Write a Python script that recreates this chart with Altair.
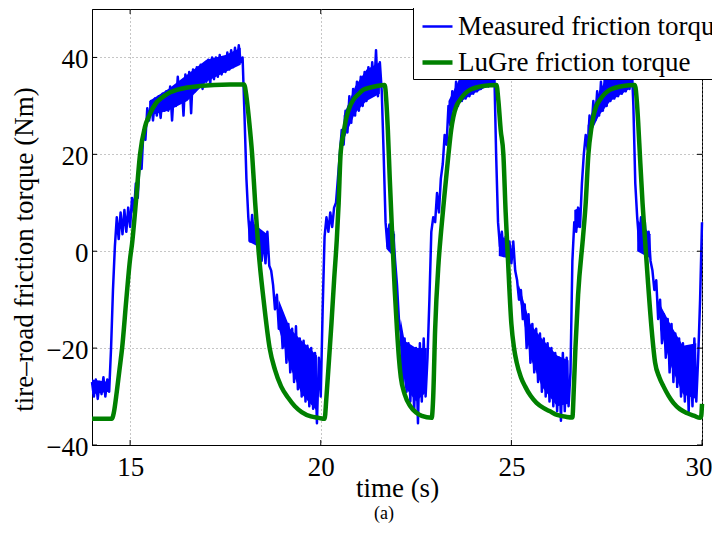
import altair as alt
import pandas as pd

# ---------------- data ----------------
x_ticks = [15, 20, 25, 30]
y_ticks = [-40, -20, 0, 20, 40]
series_names = ["Measured friction torque", "LuGre friction torque"]
series_colors = ["#0000ff", "#008000"]
series_widths = [2.5, 4.5]

# measured torque, sampled every 0.05 s from 14.00 s (one list per second)
b14 = [-27, -30, -26.5, -30.5, -27, -29.5, -26, -30, -26.5, -29, -20, -8, 1, 7, 2.5, 8, 3.5, 8.5, 4, 9]
b15 = [5, 11, 8, 14, 11, 19, 17, 25, 23, 29.5, 27, 31, 27, 31.5, 28, 32, 27.5, 32.5, 29, 33]
b16 = [29, 34, 27, 33.5, 30, 36, 31, 35, 28, 36.5, 32, 37, 28.5, 37.5, 33, 38, 34, 38.5, 33.5, 38]
b17 = [35, 39.5, 34.5, 40, 35.5, 40, 36, 40.5, 36.5, 40, 37, 41, 37.5, 41.5, 38, 42, 38.5, 42.5, 39, 40]
b18 = [28, 15, 7, 2, 7.5, 2.5, 6, 1, 4, -2, 3, -2.5, 4, -3, -4, -7, -12, -9, -16, -13]
b19 = [-20, -15, -23, -15, -25, -16, -27, -15.5, -28.5, -18, -30, -18.5, -31, -19.5, -32, -20, -32.5, -21, -35.5, -22]
b20 = [-30, -12, 3, 7, 4, 8, 5, 9, 10, 15, 20, 25, 22, 29, 24.5, 32, 26.5, 33.5, 28, 35]
b21 = [29, 36, 30, 37, 31, 38, 32, 39, 33, 41.5, 32, 39, 33, 20, 6, 1, 5.5, 0, 4, -2]
b22 = [-7, -14, -17, -27, -18, -29, -19, -31, -20, -33, -20, -35.5, -19, -31, -18, -30, -22, -10, 4, 7]
b23 = [6, 12, 8, 15, 18, 24, 22, 30, 26, 33, 28, 35, 30, 36, 31, 37, 31.5, 38, 32, 39]
b24 = [32.5, 40, 33, 40.5, 33.5, 41, 34, 41.5, 34, 41, 34.5, 38, 20, 6, 1, 4, -1, 3, -2, 2]
b25 = [-2.5, 2, -4, -6, -10, -8, -14, -11, -20, -13, -23, -15, -25, -16, -27, -17, -29, -18, -30, -19]
b26 = [-31, -20, -32, -21, -33, -22, -35, -21, -33, -22, -32, -25, -2, 6, 4, 9, 5, 14, 20, 24]
b27 = [21, 28, 25, 31, 27, 33, 28, 35, 29, 36, 30, 37, 31, 38, 31.5, 39, 32, 40, 32.5, 40.5]
b28 = [33, 41, 33.5, 40, 30, 14, 7, 2, 7, 1, 6, -1, 4, -2, -4, -8, -6, -14, -10, -19]
b29 = [-13, -22, -14, -25, -15, -27, -17, -28, -18, -30, -19, -31, -20, -33, -21, -32, -18, -31, -22, -10, 6]

# dense core of the measured noise (segment id, time, lower edge, upper edge)
band_seg = [0, 0,
            1, 1, 1, 1, 1, 1,
            2, 2,
            3, 3, 3, 3,
            4, 4, 4, 4,
            5, 5,
            6, 6, 6, 6,
            7, 7, 7, 7,
            8, 8,
            9, 9, 9, 9, 9,
            10, 10,
            11, 11, 11, 11,
            12, 12,
            13, 13, 13, 13]
band_t = [14.0, 14.45,
          15.5, 16.0, 16.5, 17.0, 17.5, 17.9,
          18.1, 18.6,
          18.9, 19.2, 19.5, 19.9,
          20.6, 20.9, 21.2, 21.55,
          21.72, 21.95,
          22.1, 22.2, 22.5, 22.78,
          23.35, 23.6, 24.0, 24.5,
          24.67, 24.95,
          25.2, 25.5, 25.8, 26.2, 26.5,
          26.65, 26.8,
          27.0, 27.3, 27.6, 28.1,
          28.3, 28.65,
          28.9, 29.2, 29.5, 29.85]
band_lo = [-29.5, -29,
           28, 29, 31, 35, 37, 38.5,
           2, 0,
           -16, -24, -29.5, -33,
           23, 28.5, 31, 32.5,
           0.5, -1.5,
           -17, -28, -31, -29,
           28, 30.5, 32.5, 34.5,
           -1, -1.5,
           -9, -22, -28, -32, -31.5,
           4.5, 5,
           23, 28, 31, 33.5,
           0, -1.5,
           -16, -24, -29.5, -30.5]
band_hi = [-26.5, -27,
           31, 33.5, 36.5, 39.5, 40.5, 42,
           6.5, 3.5,
           -10, -16, -18.5, -21.5,
           28, 34, 37.5, 39,
           5, 3.5,
           -14, -18.5, -20, -20,
           31, 35, 39.5, 40.5,
           3.5, 2,
           -7, -15, -18, -21.5, -22.5,
           8.5, 9,
           26, 33, 37, 40,
           6.5, 3.5,
           -11, -15.5, -19.5, -19]

# LuGre model torque (time, value) points
green_t = [14.0, 14.52, 14.58, 14.65, 14.72, 14.79, 14.9, 15.0, 15.05, 15.15, 15.26, 15.39, 15.5, 15.7, 15.87, 16.05, 16.22, 16.5, 16.83, 17.2, 17.62, 17.99,
           18.05, 18.12, 18.2, 18.28, 18.37, 18.5, 18.66, 18.8, 18.96, 19.15, 19.32, 19.5, 19.74, 19.95, 20.1,
           20.15, 20.22, 20.28, 20.35, 20.42, 20.47, 20.52, 20.6, 20.68, 20.76, 20.85, 21.0, 21.11, 21.3, 21.47, 21.68,
           21.72, 21.76, 21.81, 21.87, 21.94, 22.0, 22.05, 22.1, 22.2, 22.35, 22.5, 22.65, 22.91,
           22.95, 23.0, 23.09, 23.16, 23.25, 23.35, 23.42, 23.48, 23.56, 23.65, 23.78, 23.91, 24.08, 24.26, 24.61,
           24.66, 24.72, 24.79, 24.85, 24.9, 25.0, 25.07, 25.14, 25.25, 25.36, 25.5, 25.66, 25.85, 26.0, 26.2, 26.45, 26.6,
           26.64, 26.68, 26.75, 26.88, 26.95, 27.02, 27.1, 27.15, 27.23, 27.32, 27.45, 27.58, 27.75, 27.93, 28.24,
           28.29, 28.33, 28.37, 28.44, 28.5, 28.58, 28.68, 28.77, 28.88, 28.99, 29.12, 29.25, 29.42, 29.6, 29.8, 29.95, 29.98, 30.0]
green_v = [-34.6, -34.6, -33, -29, -24.5, -20, -10, -1.5, 1.5, 10, 20, 25.7, 28, 30.8, 31.9, 32.8, 33.3, 33.8, 34.1, 34.3, 34.4, 34.4,
           32, 27, 20, 10, 0, -10, -20, -24.5, -27.9, -30.3, -32, -33.2, -34.1, -34.4, -34.6,
           -30, -22, -15, -6, 2.3, 10, 20, 24.5, 27.8, 29.8, 31.2, 32.5, 33.3, 33.8, 34.1, 34.3,
           31, 25, 15, 4, -8, -16.2, -22, -26, -29.5, -32, -33.3, -34, -34.4,
           -30, -16.2, -2.4, 4.4, 12, 20, 25, 27.8, 30, 31.2, 32.5, 33.3, 33.8, 34.1, 34.3,
           31, 25, 20, 8, 0, -15, -20, -23, -26, -27.9, -29.8, -31.3, -32.4, -33, -33.8, -34.2, -34.3,
           -28, -20, -9, 3, 10, 20, 25.5, 27.8, 30, 31.2, 32.5, 33.3, 33.8, 34.1, 34.3,
           31, 26, 20, 10, 3, -6, -16.2, -23, -26, -27.9, -29.8, -31.3, -32.6, -33.4, -34, -34.4, -34, -31.5]

# ---------------- tables ----------------
blue_v = b14 + b15 + b16 + b17 + b18 + b19 + b20 + b21 + b22 + b23 + b24 + b25 + b26 + b27 + b28 + b29
blue_t = [round(14 + 0.05 * i, 2) for i in range(len(blue_v))]
df_b = pd.DataFrame({"t": blue_t, "v": blue_v, "series": series_names[0]})
df_g = pd.DataFrame({"t": green_t, "v": green_v, "series": series_names[1]})
df_band = pd.DataFrame({"seg": band_seg, "t": band_t, "v": band_lo, "v2": band_hi})
df_xt = pd.DataFrame({"t": x_ticks})
df_yt = pd.DataFrame({"v": y_ticks})

FONT = "'Liberation Serif', 'Times New Roman', Times, serif"
W, H = 610, 436

xscale = alt.Scale(domain=[14, 30], nice=False, zero=False)
yscale = alt.Scale(domain=[-40, 50], nice=False, zero=False)
xaxis = alt.Axis(values=x_ticks, format="d", title="time (s)", labelPadding=9,
                 labelFlush=4, labelFlushOffset=10, titleY=51, titleBaseline="alphabetic")
yaxis = alt.Axis(values=y_ticks, format="d", title="tire\u2013road friction torque (Nm)",
                 labelPadding=4, labelOffset=2, labelFlush=False, titleX=-60, titleY=240,
                 titleAngle=270, titleBaseline="alphabetic", titleAlign="center")
xenc = alt.X("t:Q", scale=xscale, axis=xaxis)
yenc = alt.Y("v:Q", scale=yscale, axis=yaxis)

leg = alt.Legend(
    title=None, orient="none", legendX=321, legendY=-2,
    fillColor="white", strokeColor="black", padding=3,
    labelFont=FONT, labelFontSize=27, labelColor="black", labelLimit=0,
    symbolType="stroke", symbolSize=900, symbolOffset=4, rowPadding=5, labelOffset=3,
)
color = alt.Color("series:N", scale=alt.Scale(domain=series_names, range=series_colors), legend=leg)
swidth = alt.StrokeWidth("series:N", scale=alt.Scale(domain=series_names, range=series_widths), legend=leg)

band = alt.Chart(df_band).mark_area(fill=series_colors[0], fillOpacity=1, strokeWidth=0).encode(
    x=xenc,
    y=alt.Y("v:Q", scale=yscale, axis=yaxis, stack=None),
    y2=alt.Y2("v2:Q"),
    detail=alt.Detail("seg:N"),
)
blue = alt.Chart(df_b).mark_line(strokeJoin="round").encode(x=xenc, y=yenc, color=color, strokeWidth=swidth, order="t:Q")
green = alt.Chart(df_g).mark_line(interpolate="monotone").encode(x=xenc, y=yenc, color=color, strokeWidth=swidth, order="t:Q")

tick_b = alt.Chart(df_xt).mark_rule(color="black", strokeWidth=1).encode(x=xenc, y=alt.value(H), y2=alt.value(H - 5))
tick_t = alt.Chart(df_xt).mark_rule(color="black", strokeWidth=1).encode(x=xenc, y=alt.value(0), y2=alt.value(5))
tick_l = alt.Chart(df_yt).mark_rule(color="black", strokeWidth=1).encode(y=yenc, x=alt.value(0), x2=alt.value(5))
tick_r = alt.Chart(df_yt).mark_rule(color="black", strokeWidth=1).encode(y=yenc, x=alt.value(W - 5), x2=alt.value(W))

chart = (
    alt.layer(band, blue, green, tick_b, tick_t, tick_l, tick_r)
    .properties(
        width=W, height=H,
        autosize=alt.AutoSizeParams(type="none"),
        padding={"left": 84, "top": 1, "right": 10, "bottom": 80},
        title=alt.TitleParams("(a)", orient="bottom", anchor="middle", font=FONT, fontSize=18,
                              fontWeight="normal", color="black", offset=4, dx=-13),
    )
    .configure_view(stroke="black", strokeWidth=1)
    .configure_axis(
        grid=True, gridDash=[1, 3], gridColor="#8c8c8c", gridWidth=1,
        ticks=False, domainColor="black", domainWidth=1,
        labelFont=FONT, labelFontSize=27, labelColor="black",
        titleFont=FONT, titleFontSize=27, titleFontWeight="normal", titleColor="black",
    )
)

chart.save("out.html", embed_options={"renderer": "svg", "actions": False})
